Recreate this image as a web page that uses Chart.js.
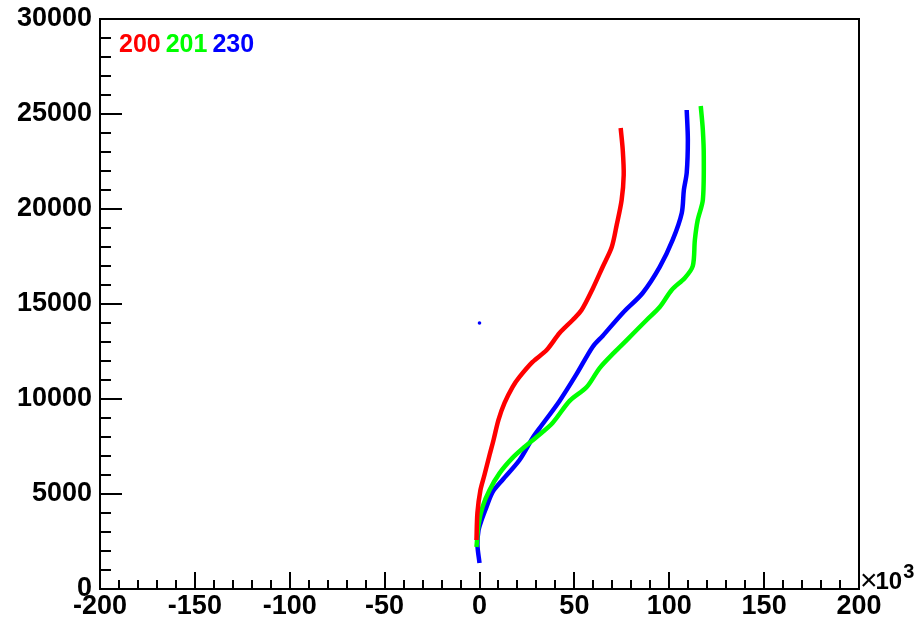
<!DOCTYPE html>
<html>
<head>
<meta charset="utf-8">
<script src="https://cdn.jsdelivr.net/npm/chart.js@4"></script>
<style>
  body { margin: 0; background: #fff; }
  #wrap { width: 916px; height: 625px; }
</style>
</head>
<body>
<div id="wrap"><canvas id="chart" width="916" height="625"></canvas></div>
<script>
// x in units of 10^3, y raw
const redX = [-1.6, -1.1, 0.5, 2.6, 5.3, 7.4, 10.0, 13.2, 17.4, 21.1, 28.0, 35.4, 42.2, 49.1, 53.8, 59.6, 64.9, 69.7, 72.3, 74.9, 76.0, 75.5, 74.4];
const redY = [2580, 4000, 5210, 6000, 7050, 7840, 8900, 9790, 10630, 11160, 11950, 12580, 13470, 14160, 14680, 15790, 16950, 18000, 19160, 20470, 21790, 23100, 24260];

const greenX = [-1.6, -0.5, 1.6, 5.3, 10.6, 17.4, 23.7, 30.1, 38.5, 47.5, 56.5, 63.3, 71.2, 77.6, 88.1, 95.0, 101.3, 108.2, 112.4, 113.5, 115.0, 117.7, 118.2, 117.7, 116.6];
const greenY = [2210, 3370, 4320, 5210, 6100, 6900, 7470, 8000, 8740, 9900, 10630, 11630, 12470, 13100, 14160, 14840, 15740, 16370, 17000, 18370, 19420, 20470, 22740, 24160, 25420];

const blueX = [0, -1.1, -0.5, 1.1, 3.7, 6.9, 12.1, 21.1, 28.0, 31.7, 42.2, 51.2, 59.6, 64.9, 75.5, 86.0, 95.0, 101.8, 106.6, 107.7, 109.2, 109.8, 109.2];
const blueY = [1370, 2320, 3100, 3630, 4320, 5100, 5740, 6790, 7950, 8470, 9900, 11320, 12740, 13320, 14530, 15580, 16950, 18370, 19790, 21000, 21900, 23630, 25210];

const strayX = [0];
const strayY = [14000];

const seriesNames = ['200', '201', '230'];
const seriesColors = ['#ff0000', '#00ff00', '#0000ff'];

const xTicks = [-200, -150, -100, -50, 0, 50, 100, 150, 200];
const yTicks = [0, 5000, 10000, 15000, 20000, 25000, 30000];

function pts(xs, ys) {
  return xs.map((x, i) => ({ x: x, y: ys[i] }));
}

const FONT = '"Liberation Sans", Arial, Helvetica, sans-serif';

// ROOT style frame, inner ticks, legend text and exponent
const rootDeco = {
  id: 'rootDeco',
  afterDraw(chart) {
    const ctx = chart.ctx;
    const a = chart.chartArea;
    const xs = chart.scales.x;
    const ys = chart.scales.y;
    ctx.save();
    ctx.strokeStyle = '#000';
    ctx.lineWidth = 2;
    ctx.strokeRect(a.left, a.top, a.right - a.left, a.bottom - a.top);

    ctx.beginPath();
    for (let v = -200; v <= 200; v += 10) {
      const px = Math.round(xs.getPixelForValue(v));
      const len = v % 50 === 0 ? 17 : 9;
      ctx.moveTo(px, a.bottom);
      ctx.lineTo(px, a.bottom - len);
    }
    for (let v = 0; v <= 30000; v += 1000) {
      const py = Math.round(ys.getPixelForValue(v));
      const len = v % 5000 === 0 ? 22 : 11;
      ctx.moveTo(a.left, py);
      ctx.lineTo(a.left + len, py);
    }
    ctx.stroke();

    // legend words
    ctx.font = 'bold 25px ' + FONT;
    ctx.textBaseline = 'alphabetic';
    ctx.textAlign = 'left';
    let lx = 119;
    seriesNames.forEach((name, i) => {
      ctx.fillStyle = seriesColors[i];
      ctx.fillText(name, lx, 52);
      lx += ctx.measureText(name).width + 5;
    });

    // x10^3
    ctx.fillStyle = '#000';
    ctx.font = '30px ' + FONT;
    ctx.fillText('\u00d7', 860, 590);
    const w = ctx.measureText('\u00d7').width;
    ctx.font = 'bold 24px ' + FONT;
    ctx.fillText('10', 860 + w - 2, 589);
    const w2 = ctx.measureText('10').width;
    ctx.font = 'bold 20px ' + FONT;
    ctx.fillText('3', 860 + w + w2 - 1, 578);
    ctx.restore();
  }
};

new Chart(document.getElementById('chart'), {
  type: 'scatter',
  data: {
    datasets: [
      { label: seriesNames[0], data: pts(redX, redY), showLine: true, borderColor: seriesColors[0], borderWidth: 4.5, pointRadius: 0, tension: 0.3 },
      { label: seriesNames[1], data: pts(greenX, greenY), showLine: true, borderColor: seriesColors[1], borderWidth: 4.5, pointRadius: 0, tension: 0.3 },
      { label: seriesNames[2], data: pts(blueX, blueY), showLine: true, borderColor: seriesColors[2], borderWidth: 4.5, pointRadius: 0, tension: 0.3 },
      { label: 'stray', data: pts(strayX, strayY), showLine: false, backgroundColor: seriesColors[2], borderWidth: 0, pointRadius: 1.8 }
    ]
  },
  options: {
    responsive: false,
    animation: false,
    layout: { padding: { top: 19, right: 57, left: 0, bottom: 0 } },
    plugins: { legend: { display: false }, tooltip: { enabled: false } },
    scales: {
      x: {
        type: 'linear',
        min: -200, max: 200,
        afterBuildTicks: s => { s.ticks = xTicks.map(v => ({ value: v })); },
        afterFit: s => { s.height = 36; s.paddingLeft = 0; s.paddingRight = 0; },
        grid: { display: false, drawTicks: false },
        border: { display: false },
        ticks: { color: '#000', padding: 1, maxRotation: 0, autoSkip: false, font: { family: FONT, size: 27, weight: 'bold' }, callback: v => String(v) }
      },
      y: {
        type: 'linear',
        min: 0, max: 30000,
        afterBuildTicks: s => { s.ticks = yTicks.map(v => ({ value: v })); },
        afterFit: s => { s.width = 100; s.paddingTop = 0; s.paddingBottom = 0; },
        grid: { display: false, drawTicks: false },
        border: { display: false },
        ticks: { color: '#000', padding: 8, autoSkip: false, font: { family: FONT, size: 27, weight: 'bold' }, callback: v => String(v) }
      }
    }
  },
  plugins: [rootDeco]
});
</script>
</body>
</html>
